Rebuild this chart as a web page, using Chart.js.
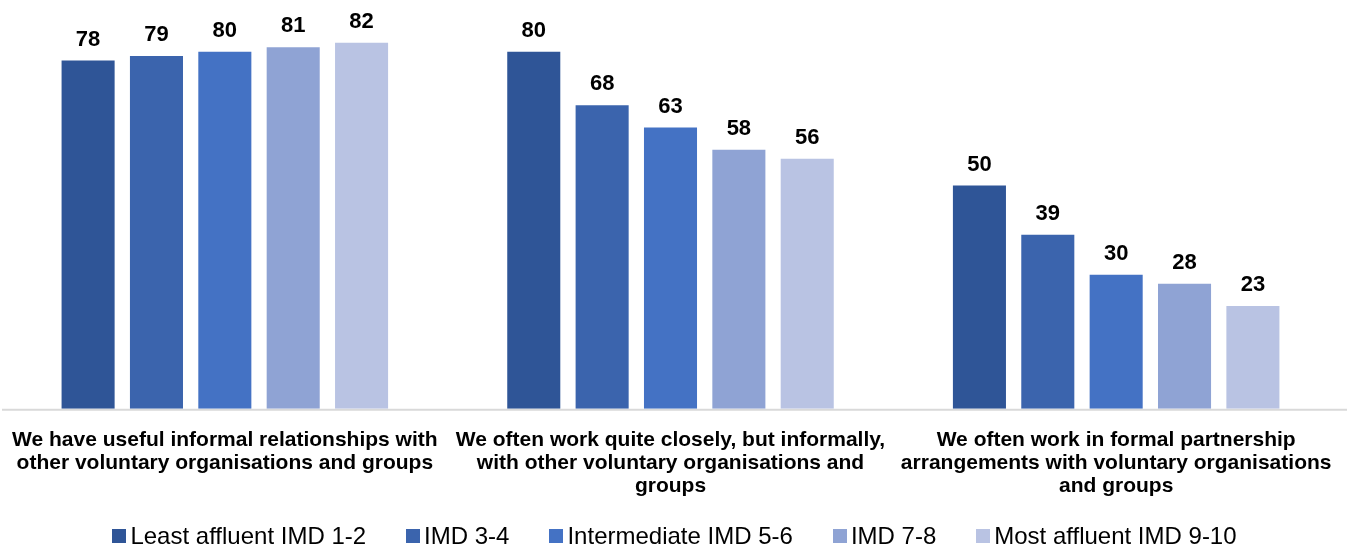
<!DOCTYPE html>
<html>
<head>
<meta charset="utf-8">
<script src="https://cdn.jsdelivr.net/npm/chart.js@4/dist/chart.umd.min.js"></script>
<style>
  html, body { margin: 0; padding: 0; background: #fff; }
  #wrap { position: relative; width: 1349px; height: 547px; }
  #legend { position: absolute; left: 0; top: 521px; width: 1349px; height: 29px; display: flex; justify-content: center; align-items: center;
            font-family: "Liberation Sans", Arial, sans-serif; font-size: 24px; color: #000; }
  .item { display: flex; align-items: center; margin: 0 20px; }
  .box { width: 14px; height: 14px; margin-right: 4px; }
</style>
</head>
<body>
<div id="wrap"><canvas id="c" width="1349" height="547"></canvas><div id="legend"></div></div>
<script>
const categories = [
  ["We have useful informal relationships with", "other voluntary organisations and groups"],
  ["We often work quite closely, but informally,", "with other voluntary organisations and", "groups"],
  ["We often work in formal partnership", "arrangements with voluntary organisations", "and groups"]
];
const seriesNames = ["Least affluent IMD 1-2", "IMD 3-4", "Intermediate IMD 5-6", "IMD 7-8", "Most affluent IMD 9-10"];
const leastAffluent = [78, 80, 50];
const imd34 = [79, 68, 39];
const intermediate = [80, 63, 30];
const imd78 = [81, 58, 28];
const mostAffluent = [82, 56, 23];
const colors = ["#2F5597", "#3B64AD", "#4472C4", "#8FA3D4", "#B9C3E3"];

const seriesValues = [leastAffluent, imd34, intermediate, imd78, mostAffluent];

const labelPlugin = {
  id: 'valueLabels',
  beforeDatasetsDraw(chart) {
    const ctx = chart.ctx;
    const y = chart.chartArea.bottom + 1;
    ctx.save();
    ctx.strokeStyle = '#D9D9D9';
    ctx.lineWidth = 2;
    ctx.beginPath();
    ctx.moveTo(2, y);
    ctx.lineTo(1347, y);
    ctx.stroke();
    ctx.restore();
  },
  afterDatasetsDraw(chart) {
    const ctx = chart.ctx;
    ctx.save();
    ctx.font = 'bold 22px "Liberation Sans", Arial, sans-serif';
    ctx.fillStyle = '#000';
    ctx.textAlign = 'center';
    ctx.textBaseline = 'alphabetic';
    chart.data.datasets.forEach((ds, i) => {
      const meta = chart.getDatasetMeta(i);
      meta.data.forEach((el, j) => {
        ctx.fillText(String(ds.data[j]), el.x, el.y - 15);
      });
    });
    ctx.restore();
  }
};

new Chart(document.getElementById('c'), {
  type: 'bar',
  data: {
    labels: categories,
    datasets: seriesNames.map((n, i) => ({
      label: n,
      data: seriesValues[i],
      backgroundColor: colors[i],
      borderWidth: 0,
      categoryPercentage: 0.767,
      barPercentage: 0.776
    }))
  },
  options: {
    responsive: false,
    animation: false,
    layout: { padding: { left: 2, right: 10, top: 7, bottom: 37 } },
    plugins: { legend: { display: false }, tooltip: { enabled: false } },
    scales: {
      y: { display: false, min: 0, max: 90 },
      x: {
        grid: { display: false },
        border: { display: false },
        afterFit(scale) { scale.paddingLeft = 0; scale.paddingRight = 0; },
        ticks: {
          color: '#000',
          padding: 12,
          maxRotation: 0,
          autoSkip: false,
          font: { family: '"Liberation Sans", Arial, sans-serif', size: 21, weight: 'bold', lineHeight: 1.1 }
        }
      }
    }
  },
  plugins: [labelPlugin]
});

const leg = document.getElementById('legend');
seriesNames.forEach((n, i) => {
  const it = document.createElement('div');
  it.className = 'item';
  const b = document.createElement('div');
  b.className = 'box';
  b.style.background = colors[i];
  const t = document.createElement('span');
  t.textContent = n;
  it.appendChild(b); it.appendChild(t);
  leg.appendChild(it);
});
</script>
</body>
</html>
